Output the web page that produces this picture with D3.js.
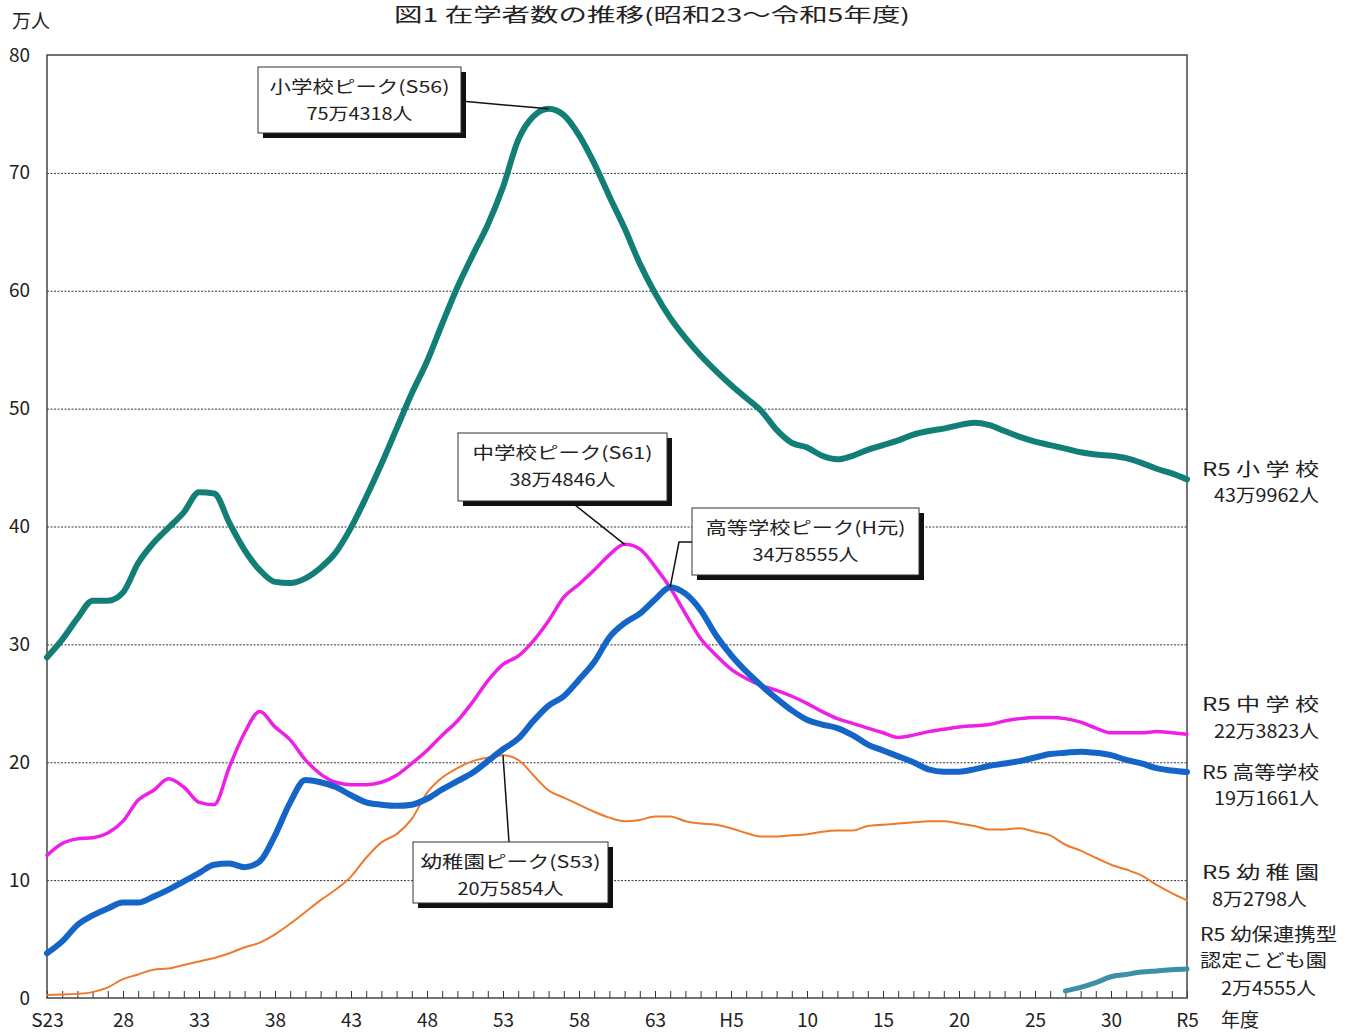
<!DOCTYPE html>
<html><head><meta charset="utf-8">
<script src="https://cdn.jsdelivr.net/npm/d3@7"></script>
<style>
body{margin:0;background:#fff;}
svg{display:block;}
.jp{font-family:"Noto Sans CJK JP","Noto Sans",sans-serif;}
.nar{font-family:"Liberation Sans Narrow","Noto Sans CJK JP",sans-serif;}
</style></head>
<body>
<script>
// ---- data ----
const years = d3.range(1948, 2024);
const elementary = [28.9,30.4,32.2,33.7,33.7,34.4,36.9,38.6,39.9,41.2,42.9,42.8,40.3,38.0,36.3,35.3,35.2,35.6,36.5,37.8,
  39.9,42.5,45.3,48.3,51.3,54.0,57.2,60.3,63.0,65.6,68.8,72.8,74.8,75.4318,74.9,73.2,70.8,68.0,65.3,62.3,
  59.8,57.7,56.0,54.5,53.2,52.0,50.9,49.8,48.2,47.1,46.7,46.0,45.7,46.0,46.5,46.9,47.3,47.8,48.1,48.3,
  48.6,48.8,48.6,48.1,47.6,47.2,46.9,46.6,46.3,46.1,46.0,45.8,45.4,44.9,44.5,43.9962];
const juniorHigh = [12.1,13.1,13.5,13.6,14.0,15.0,16.8,17.6,18.6,17.9,16.6,16.4,19.6,22.5,24.3,23.0,21.9,20.2,19.0,18.3,
  18.1,18.1,18.3,18.9,19.9,21.0,22.3,23.5,25.1,26.9,28.3,29.0,30.3,32.0,34.0,35.1,36.3,37.6,38.4846,38.1,
  36.6,34.8,32.6,30.5,29.1,27.9,27.1,26.5,26.1,25.6,25.0,24.3,23.7,23.3,22.9,22.5,22.1,22.3,22.6,22.8,
  23.0,23.1,23.2,23.5,23.7,23.8,23.8,23.7,23.4,22.9,22.5,22.5,22.5,22.6,22.5,22.3823];
const highSchool = [3.8,4.8,6.2,7.0,7.6,8.1,8.1,8.6,9.2,9.9,10.6,11.3,11.4,11.1,11.6,13.8,16.6,18.5,18.3,17.9,
  17.2,16.6,16.4,16.3,16.4,16.9,17.7,18.4,19.1,20.1,21.1,22.0,23.5,24.8,25.6,27.0,28.5,30.6,31.8,32.6,
  33.8,34.8555,34.3,32.9,30.8,29.1,27.7,26.5,25.4,24.4,23.6,23.2,22.9,22.3,21.5,21.0,20.5,20.0,19.4,19.2,
  19.2,19.4,19.7,19.9,20.1,20.4,20.7,20.8,20.9,20.8,20.6,20.2,19.9,19.5,19.3,19.1661];
const kindergarten = [0.25,0.3,0.35,0.5,0.9,1.6,2.0,2.4,2.5,2.8,3.1,3.4,3.8,4.3,4.7,5.4,6.3,7.3,8.3,9.2,
  10.3,11.9,13.2,13.9,15.2,17.4,18.7,19.5,20.1,20.4,20.5854,20.2,18.9,17.6,17.0,16.4,15.8,15.3,15.0,15.1,
  15.4,15.4,15.0,14.8,14.7,14.4,14.0,13.7,13.7,13.8,13.9,14.1,14.2,14.2,14.6,14.7,14.8,14.9,15.0,15.0,
  14.8,14.6,14.3,14.3,14.4,14.1,13.8,13.0,12.5,11.9,11.3,10.9,10.4,9.6,8.9,8.2798];
const kodomoenYears = d3.range(2015, 2024);
const kodomoen = [0.6,0.9,1.3,1.8,2.0,2.2,2.3,2.4,2.4555];
const tickYears = [1948,1953,1958,1963,1968,1973,1978,1983,1988,1993,1998,2003,2008,2013,2018,2023];
const tickLabels = ["S23","28","33","38","43","48","53","58","63","H5","10","15","20","25","30","R5"];
const yTicks = [0,10,20,30,40,50,60,70,80];

const W = 1355, H = 1032;
const svg = d3.select("body").append("svg").attr("width", W).attr("height", H);
const x = d3.scaleLinear().domain([1948, 2023]).range([47, 1187]);
const y = d3.scaleLinear().domain([0, 80]).range([998, 55]);

// title
svg.append("text").attr("class","jp").attr("x", 652).attr("y", 22).attr("text-anchor","middle")
  .attr("font-size", 19).attr("fill","#222").attr("textLength", 516).attr("lengthAdjust","spacingAndGlyphs")
  .text("図1  在学者数の推移(昭和23～令和5年度)");
svg.append("text").attr("class","jp").attr("x", 12).attr("y", 28).attr("font-size", 19).attr("fill","#222").text("万人");

// gridlines
svg.append("g").attr("transform", `translate(47,0)`)
  .call(d3.axisLeft(y).tickValues([10,20,30,40,50,60,70]).tickSize(-1140).tickFormat(""))
  .call(g => g.select(".domain").remove())
  .call(g => g.selectAll("line").attr("stroke","#333").attr("stroke-width",1).attr("stroke-dasharray","2,1.5"));

// y labels
svg.append("g").attr("transform", `translate(47,0)`)
  .call(d3.axisLeft(y).tickValues(yTicks).tickSize(0).tickPadding(17).tickFormat(d3.format("d")))
  .call(g => g.select(".domain").remove())
  .call(g => g.selectAll("text").attr("class","nar").attr("font-size", 19).attr("fill","#222"));

// minor year ticks (pointing up)
svg.append("g").attr("transform", `translate(0,998)`)
  .call(d3.axisBottom(x).tickValues(years).tickSizeInner(-7).tickSizeOuter(0).tickFormat(""))
  .call(g => g.select(".domain").remove())
  .call(g => g.selectAll("line").attr("stroke","#333").attr("stroke-width",1));

// x labels
svg.append("g").attr("transform", `translate(0,998)`)
  .call(d3.axisBottom(x).tickValues(tickYears).tickSize(0).tickPadding(16).tickFormat((d,i)=>tickLabels[i]))
  .call(g => g.select(".domain").remove())
  .call(g => g.selectAll("text").attr("class","nar").attr("font-size", 19).attr("fill","#222"));
svg.append("text").attr("class","jp").attr("x", 1221).attr("y", 1027).attr("font-size", 19).attr("fill","#222").text("年度");

// frame
svg.append("rect").attr("x", 47).attr("y", 55).attr("width", 1140).attr("height", 943)
  .attr("fill","none").attr("stroke","#444").attr("stroke-width",1.5);

// lines
const line = (xs) => d3.line().x((d,i)=>x(xs[i])).y(d=>y(d)).curve(d3.curveMonotoneX);
function draw(data, xs, color, w){
  svg.append("path").datum(data).attr("d", line(xs)).attr("fill","none")
    .attr("stroke", color).attr("stroke-width", w).attr("stroke-linejoin","round").attr("stroke-linecap","round");
}
draw(kindergarten, years, "#ee7a2c", 2);
draw(juniorHigh, years, "#ee1fe6", 3.5);
draw(highSchool, years, "#1565c8", 6);
draw(elementary, years, "#127f76", 6);
draw(kodomoen, kodomoenYears, "#3d8fa6", 5);

// annotation boxes
function callout(bx, by, bw, bh, lines, pts){
  const g = svg.append("g");
  g.append("path").attr("d", d3.line()(pts)).attr("fill","none").attr("stroke","#111").attr("stroke-width",1.5);
  g.append("rect").attr("x", bx+5).attr("y", by+5).attr("width", bw).attr("height", bh).attr("fill","#111");
  g.append("rect").attr("x", bx).attr("y", by).attr("width", bw).attr("height", bh).attr("fill","#fff")
    .attr("stroke","#333").attr("stroke-width",1);
  lines.forEach((l, i) => {
    g.append("text").attr("class","jp").attr("x", bx + bw/2).attr("y", by + 26 + i*27)
      .attr("text-anchor","middle").attr("font-size", 17).attr("fill","#222")
      .attr("textLength", l[1]).attr("lengthAdjust","spacingAndGlyphs").text(l[0]);
  });
}
callout(258, 67, 203, 66, [["小学校ピーク(S56)",180],["75万4318人",106]],
  [[461,101],[x(1981),y(75.4318)]]);
callout(458, 433, 209, 68, [["中学校ピーク(S61)",180],["38万4846人",106]],
  [[570,501],[x(1986),y(38.4846)]]);
callout(692, 508, 227, 67, [["高等学校ピーク(H元)",200],["34万8555人",106]],
  [[692,542],[679,542],[x(1989),y(34.8555)]]);
callout(413, 842, 195, 61, [["幼稚園ピーク(S53)",180],["20万5854人",106]],
  [[509,842],[x(1978),y(20.5854)]]);

// right labels
function rlabel(t, xx, yy, len){
  svg.append("text").attr("class","jp").attr("x", xx).attr("y", yy).attr("font-size", 18).attr("fill","#222")
    .attr("textLength", len).attr("lengthAdjust","spacingAndGlyphs").text(t);
}
rlabel("R5 小 学 校", 1202, 476, 117);
rlabel("43万9962人", 1214, 502, 105);
rlabel("R5 中 学 校", 1202, 711, 117);
rlabel("22万3823人", 1214, 738, 105);
rlabel("R5 高等学校", 1202, 779, 117);
rlabel("19万1661人", 1214, 805, 105);
rlabel("R5 幼 稚 園", 1202, 879, 117);
rlabel("8万2798人", 1212, 906, 95);
rlabel("R5 幼保連携型", 1200, 941, 137);
rlabel("認定こども園", 1200, 967, 127);
rlabel("2万4555人", 1221, 995, 95);
</script>
</body></html>
